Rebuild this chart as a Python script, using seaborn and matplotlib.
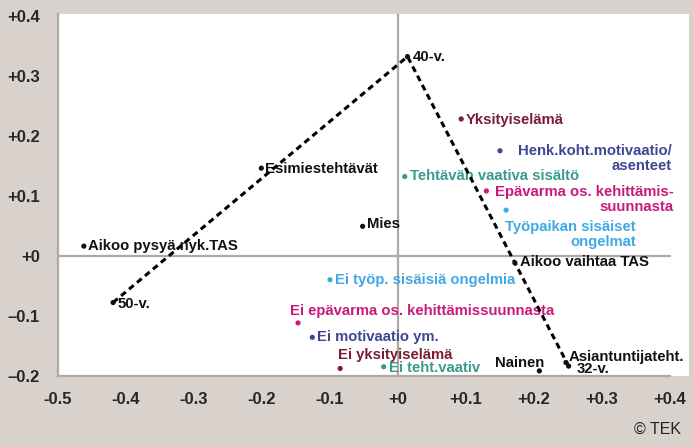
import pandas as pd
import seaborn as sns
import matplotlib.pyplot as plt

sns.set_style("white")
plt.rcParams['font.family'] = ['Liberation Sans', 'DejaVu Sans']

# values
labels = ["40-v.", "Esimiestehtävät", "Aikoo pysyä nyk.TAS", "50-v.", "Mies",
          "Yksityiselämä", "Henk.koht.motivaatio/\nasenteet", "Tehtävän vaativa sisältö",
          "Epävarma os. kehittämis-\nsuunnasta", "Työpaikan sisäiset\nongelmat",
          "Aikoo vaihtaa TAS", "Ei työp. sisäisiä ongelmia",
          "Ei epävarma os. kehittämissuunnasta", "Ei motivaatio ym.",
          "Ei yksityiselämä", "Ei teht.vaativ", "Nainen", "Asiantuntijateht.", "32-v."]
x = [0.014, -0.201, -0.462, -0.419, -0.052,
     0.093, 0.150, 0.010,
     0.130, 0.159,
     0.172, -0.100,
     -0.147, -0.126,
     -0.085, -0.021, 0.208, 0.247, 0.251]
y = [0.332, 0.146, 0.016, -0.078, 0.049,
     0.228, 0.175, 0.132,
     0.108, 0.076,
     -0.012, -0.040,
     -0.112, -0.136,
     -0.188, -0.185, -0.192, -0.178, -0.184]
group = ["base", "base", "base", "base", "base",
         "private", "motivation", "content",
         "uncertain", "problems",
         "base", "problems",
         "uncertain", "motivation",
         "private", "content", "base", "base", "base"]

age_labels = ["50-v.", "40-v.", "32-v."]

x_ticks = [-0.5, -0.4, -0.3, -0.2, -0.1, 0, 0.1, 0.2, 0.3, 0.4]
x_ticklabels = ["-0.5", "-0.4", "-0.3", "-0.2", "-0.1", "+0", "+0.1", "+0.2", "+0.3", "+0.4"]
y_ticks = [-0.2, -0.1, 0, 0.1, 0.2, 0.3, 0.4]
y_ticklabels = ["\u20130.2", "\u20130.1", "+0", "+0.1", "+0.2", "+0.3", "+0.4"]

palette = {"base": "#111111", "private": "#7b1b36", "motivation": "#3d4794",
           "content": "#3a9a8c", "uncertain": "#c8197d", "problems": "#41a8e4"}

# label placement (pixel offsets from the dot, horizontal alignment)
offsets = [(5, 0), (4, -1), (4, 0), (5, -1), (4, 2),
           (5, -1), (172, -8), (5, 1),
           (187, -9), (130, -24),
           (5, 1), (5, 0),
           (-8, 12), (5, 0),
           (-2, 14), (5, -1), (5, 8), (3, 6), (8, -3)]
aligns = ["left", "left", "left", "left", "left",
          "left", "right", "left",
          "right", "right",
          "left", "left",
          "left", "left",
          "left", "left", "right", "left", "left"]

data = pd.DataFrame({"label": labels, "x": x, "y": y, "group": group})
ages = data.set_index("label").loc[age_labels].reset_index()

bg = "#d9d1cc"
grey = "#b1a9a1"

fig, ax = plt.subplots(figsize=(6.93, 4.47), dpi=100)
fig.patch.set_facecolor(bg)
ax.set_facecolor("white")
fig.subplots_adjust(left=0.0837, right=0.9942, bottom=0.1595, top=0.9687)

ax.axhline(0, xmin=0, xmax=0.9 / 0.928, color=grey, lw=1.6, zorder=1)
ax.axvline(0, color=grey, lw=1.6, zorder=1)

for i, row in data.iterrows():
    ax.annotate(row["label"], (row["x"], row["y"]), xytext=offsets[i],
                textcoords="offset pixels", ha=aligns[i], va="center",
                multialignment="right", color=palette[row["group"]],
                fontsize=10.7, fontweight="bold", linespacing=1.1, zorder=2,
                annotation_clip=False)

sns.lineplot(data=ages, x="x", y="y", sort=False, color="black", lw=2.2,
             linestyle=(0, (2, 1.4)), ax=ax, zorder=3)
sns.scatterplot(data=data, x="x", y="y", hue="group", palette=palette, s=14,
                edgecolor="none", legend=False, ax=ax, zorder=4)

ax.set(xlim=(-0.5, 0.428), ylim=(-0.2, 0.403), xlabel="", ylabel="")
ax.set_xticks(x_ticks)
ax.set_xticklabels(x_ticklabels)
ax.set_yticks(y_ticks)
ax.set_yticklabels(y_ticklabels)
ax.tick_params(axis="both", direction="out", length=6.5, width=1.5, color=grey,
               labelsize=12)
ax.tick_params(axis="y", pad=6.5)
ax.tick_params(axis="x", pad=5)
for t in ax.get_xticklabels() + ax.get_yticklabels():
    t.set_fontweight("bold")

for side in ["top", "right"]:
    ax.spines[side].set_visible(False)
for side in ["left", "bottom"]:
    ax.spines[side].set_color(grey)
    ax.spines[side].set_linewidth(1.6)
ax.spines["bottom"].set_bounds(-0.5, 0.4)
ax.spines["left"].set_bounds(-0.2, 0.403)

fig.text(0.983, 0.022, "\u00a9 TEK", ha="right", va="bottom", fontsize=11.5, color="#222222")

plt.savefig("out.png", dpi=100, facecolor=bg)
